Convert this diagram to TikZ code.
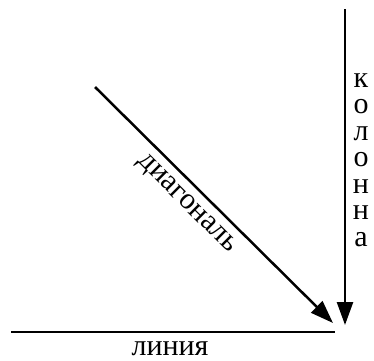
\documentclass[tikz,border=0pt]{standalone}
\usepackage{fontspec}
\setmainfont{Liberation Serif}
\usetikzlibrary{arrows.meta}
\begin{document}
\begin{tikzpicture}[x=1pt,y=-1pt,
  conn/.style={line width=2.5pt},
  arr/.style={conn,-{Triangle[length=23pt,width=16pt]}},
  lbl/.style={font=\rmfamily\fontsize{30}{26.5}\selectfont,inner sep=0pt}]
\useasboundingbox (0,0) rectangle (374,360);
\coordinate (ctop) at (345,9);
\coordinate (cend) at (345,325);
\coordinate (dstart) at (95,87);
\coordinate (dend) at (333,323);
\coordinate (lstart) at (11,332);
\coordinate (lend) at (335,332);
\draw[arr] (ctop) -- (cend);
\draw[arr] (dstart) -- node[lbl,pos=0.44,sloped,below=8pt] (dlab) {диагональ} (dend);
\draw[conn] (lstart) -- (lend);
\node[lbl,anchor=base] (llab) at (170,355) {линия};
\node[lbl,align=center] (clab) at (361,160) {к\\о\\л\\о\\н\\н\\а};
\end{tikzpicture}
\end{document}
